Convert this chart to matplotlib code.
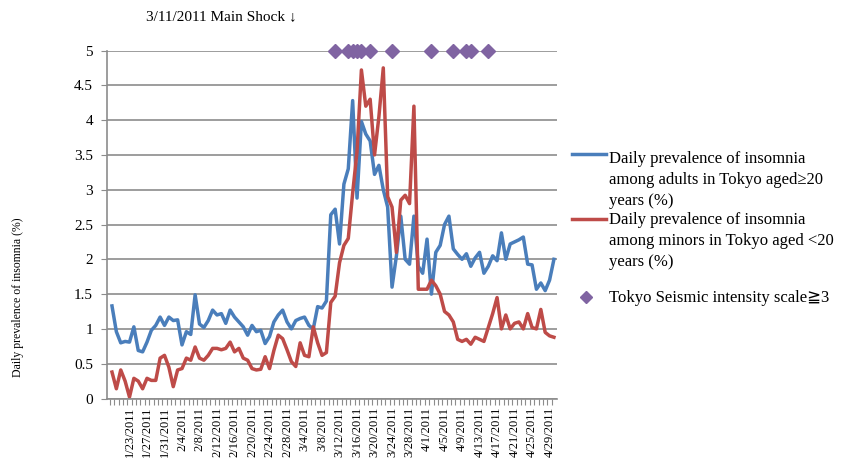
import matplotlib.pyplot as plt
import matplotlib.dates as mdates
from matplotlib.lines import Line2D
import numpy as np
import pandas as pd

# daily series, 1/19/2011 .. 4/30/2011
start = '2011-01-19'
adults = [1.33, 0.96, 0.80, 0.82, 0.81, 1.03, 0.69, 0.67, 0.81, 0.98,
          1.05, 1.17, 1.05, 1.17, 1.12, 1.13, 0.77, 0.96, 0.92, 1.49,
          1.07, 1.02, 1.12, 1.27, 1.20, 1.22, 1.08, 1.27, 1.17, 1.10,
          1.03, 0.91, 1.05, 0.96, 0.98, 0.79, 0.89, 1.10, 1.20, 1.27,
          1.10, 1.00, 1.12, 1.15, 1.17, 1.05, 1.00, 1.32, 1.30, 1.40,
          2.64, 2.72, 2.22, 3.08, 3.30, 4.28, 2.88, 3.98, 3.80, 3.70,
          3.22, 3.35, 3.00, 2.75, 1.60, 2.05, 2.62, 2.00, 1.93, 2.62,
          1.90, 1.80, 2.29, 1.50, 2.10, 2.20, 2.50, 2.62, 2.15, 2.07,
          2.00, 2.08, 1.90, 2.02, 2.10, 1.80, 1.90, 2.05, 1.98, 2.38,
          2.00, 2.22, 2.25, 2.28, 2.32, 1.93, 1.92, 1.57, 1.66, 1.55,
          1.70, 2.00]
minors = [0.38, 0.14, 0.41, 0.25, 0.02, 0.29, 0.25, 0.14, 0.29, 0.26,
          0.26, 0.58, 0.62, 0.45, 0.17, 0.41, 0.43, 0.58, 0.55, 0.74,
          0.58, 0.55, 0.62, 0.72, 0.72, 0.70, 0.72, 0.81, 0.67, 0.72,
          0.58, 0.55, 0.43, 0.41, 0.42, 0.60, 0.43, 0.69, 0.91, 0.86,
          0.70, 0.53, 0.46, 0.80, 0.62, 0.60, 1.03, 0.80, 0.62, 0.66,
          1.38, 1.47, 1.95, 2.20, 2.30, 2.95, 3.55, 4.72, 4.20, 4.30,
          3.50, 4.05, 4.75, 2.90, 2.75, 2.10, 2.85, 2.92, 2.80, 4.20,
          1.57, 1.57, 1.57, 1.70, 1.62, 1.50, 1.25, 1.20, 1.10, 0.85,
          0.82, 0.85, 0.78, 0.88, 0.85, 0.82, 1.02, 1.22, 1.45, 1.00,
          1.20, 1.00, 1.08, 1.10, 1.00, 1.22, 1.02, 1.00, 1.28, 0.95,
          0.90, 0.88]
quake_days = ['2011-03-11', '2011-03-14', '2011-03-15', '2011-03-16',
              '2011-03-17', '2011-03-19', '2011-03-24', '2011-04-02',
              '2011-04-07', '2011-04-10', '2011-04-11', '2011-04-15']
quake_level = 5

label_adults = 'Daily prevalence of insomnia\namong adults in Tokyo aged\u226520\nyears (%)'
label_minors = 'Daily prevalence of insomnia\namong minors in Tokyo aged <20\nyears (%)'
label_quake = 'Tokyo Seismic intensity scale\u22673'

blue = '#4a7ebb'
red = '#be4b48'
purple = '#8064a2'
grid_c = '#8c8c8c'
serif = ['Liberation Serif', 'DejaVu Serif', 'DejaVu Sans']

plt.rcParams['font.family'] = serif

dates = pd.date_range(start, periods=len(adults))
qd = pd.to_datetime(quake_days)

fig = plt.figure(figsize=(8.55, 4.71), dpi=100)
ax = fig.add_axes([107 / 855, 1 - 398.5 / 471, 450 / 855, 348 / 471])

ax.plot(dates, adults, color=blue, lw=2.5, solid_joinstyle='round')
ax.plot(dates, minors, color=red, lw=2.5, solid_joinstyle='round')
ax.plot(qd, [quake_level] * len(qd), 'D', color=purple, ms=7.5,
        clip_on=False, zorder=5)

x0 = mdates.date2num(dates[0])
ax.set_xlim(x0 - 1.14, x0 + 101.7)
ax.set_ylim(0, 5)

yt = np.arange(0, 5.01, 0.5)
ax.set_yticks(yt)
ax.set_yticklabels(['%g' % v for v in yt], fontsize=11)
ax.yaxis.grid(True, color=grid_c, lw=1.2)
ax.set_axisbelow(True)

tick_dates = dates[4::4]
ax.set_xticks(tick_dates)
ax.set_xticklabels(['%d/%d/%d' % (d.month, d.day, d.year) for d in tick_dates],
                   rotation=90, fontsize=9)
ax.set_xticks(mdates.date2num(dates) - 0.5, minor=True)
ax.tick_params(axis='x', which='major', length=0, pad=6)
ax.tick_params(axis='x', which='minor', length=4, color=grid_c, width=0.8)
ax.tick_params(axis='y', length=4, color=grid_c, pad=6)

for s in ['top', 'right']:
    ax.spines[s].set_visible(False)
ax.spines['left'].set_color(grid_c)
ax.spines['bottom'].set_color(grid_c)
ax.spines['left'].set_linewidth(1.2)
ax.spines['bottom'].set_linewidth(1.2)

fig.text(18 / 855, 1 - 297 / 471, 'Daily prevalence of insomnia (%)',
         rotation=90, ha='center', va='center', fontsize=8.5)
fig.text(146 / 855, 1 - 17 / 471, '3/11/2011 Main Shock \u2193',
         ha='left', va='center', fontsize=11)

# legend drawn by hand so the line sits on the first text line
entries = [(Line2D([572 / 855, 606 / 855], [1 - 154 / 471] * 2, color=blue, lw=2.5),
            label_adults, 151),
           (Line2D([572 / 855, 606 / 855], [1 - 219 / 471] * 2, color=red, lw=2.5),
            label_minors, 212),
           (Line2D([586 / 855], [1 - 297 / 471], marker='D', color=purple, ms=6, lw=0),
            label_quake, 290)]
for handle, text, ytop in entries:
    fig.add_artist(handle)
    fig.text(609 / 855, 1 - ytop / 471, text, ha='left', va='top',
             fontsize=12, linespacing=1.4)

fig.savefig('out.png', dpi=100)
